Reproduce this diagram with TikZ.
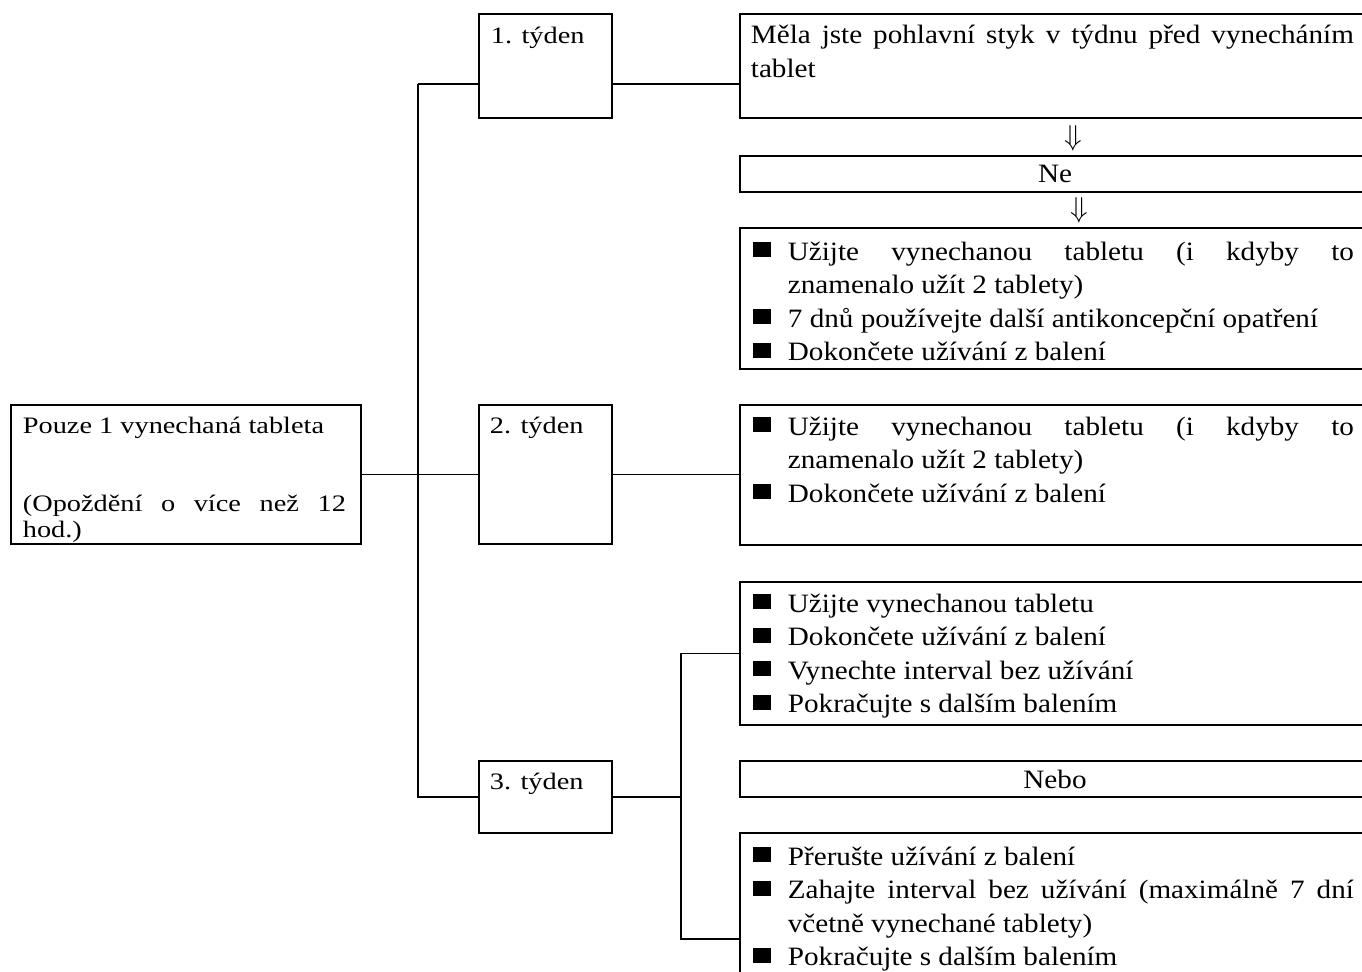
\documentclass[tikz,border=0pt]{standalone}
\usepackage{fontspec}
\setmainfont{Liberation Serif}
\newfontfamily\rfont{Liberation Serif}[FakeStretch=1.1]
\newfontfamily\wfont{Liberation Serif}[FakeStretch=1.2]
\setlength{\parindent}{0pt}
\newcommand{\rlead}{\rule{0pt}{16pt}}
\newcommand{\wlead}{\rule{0pt}{14pt}}
\newcommand{\blt}{\par\hangindent=18.5pt\hangafter=1\noindent\makebox[18.5pt][l]{\hspace{1pt}\rule[1.5pt]{9pt}{7.5pt}}}
\tikzset{
  frame/.style={draw, anchor=north west, inner sep=0pt, outer sep=0pt},
  rtext/.style={anchor=north west, inner sep=0pt, text width=301.5pt, align=justify,
    font=\rfont\fontsize{13.25}{16.75}\selectfont, yshift=16pt},
  wtext/.style={anchor=north west, inner sep=0pt, text width=161.5pt, align=justify,
    font=\wfont\fontsize{11.8}{13}\selectfont, yshift=14pt},
  wlabel/.style={anchor=base west, inner sep=0pt, font=\wfont\fontsize{11.8}{13}\selectfont},
  ctext/.style={font=\rfont\fontsize{13.25}{16.75}\selectfont},
  darrow/.style={inner sep=0pt, font=\fontsize{14}{16}\selectfont}
}

\begin{document}
\begin{tikzpicture}[x=0.5pt, y=-0.5pt, line width=0.9pt]
    \useasboundingbox (0,0) rectangle (1362,971);
    \clip (0,0) rectangle (1362,971);

    \node[frame, minimum width=175pt, minimum height=69.5pt] (main) at (11,405) {};
    \node[frame, minimum width=66.5pt, minimum height=52pt] (w1) at (479,14) {};
    \node[frame, minimum width=66.5pt, minimum height=69.5pt] (w2) at (479,405) {};
    \node[frame, minimum width=66.5pt, minimum height=36pt] (w3) at (479,761) {};

    \node[frame, minimum width=315pt, minimum height=52pt] (qa) at (740,14) {};
    \node[frame, ctext, minimum width=315pt, minimum height=18pt] (ne) at (740,156) {Ne};
    \node[frame, minimum width=315pt, minimum height=70.5pt] (qb) at (740,228) {};
    \node[frame, minimum width=315pt, minimum height=70pt] (qw) at (740,405) {};
    \node[frame, minimum width=315pt, minimum height=71.5pt] (qc) at (740,582) {};
    \node[frame, ctext, minimum width=315pt, minimum height=18pt] (nebo) at (740,761) {Nebo};
    \node[frame, minimum width=315pt, minimum height=106pt] (qd) at (740,833) {};

    \node[darrow] (d1) at (1073,138) {$\Downarrow$};
    \node[darrow] (d2) at (1079,210) {$\Downarrow$};

    \node[wtext] (tmain) at (22,433) {\noindent\wlead Pouze 1 vynechaná tableta\par\vspace{26pt}\noindent (Opoždění o více než 12\linebreak hod.)};
    \node[wlabel] (tw1) at (490,43) {1. týden};
    \node[wlabel] (tw2) at (489,433) {2. týden};
    \node[wlabel] (tw3) at (489,789) {3. týden};

    \node[rtext] (ta) at (750,43) {\noindent\rlead Měla jste pohlavní styk v týdnu před vynecháním\linebreak tablet};
    \node[rtext] (tb) at (750,258) {\blt\rlead Užijte vynechanou tabletu (i kdyby to\linebreak znamenalo užít 2 tablety)\blt 7 dnů používejte další antikoncepční opatření\blt Dokončete užívání z balení};
    \node[rtext] (tw) at (750,433) {\blt\rlead Užijte vynechanou tabletu (i kdyby to\linebreak znamenalo užít 2 tablety)\blt Dokončete užívání z balení};
    \node[rtext] (tc) at (750,610) {\blt\rlead Užijte vynechanou tabletu\blt Dokončete užívání z balení\blt Vynechte interval bez užívání\blt Pokračujte s dalším balením};
    \node[rtext] (td) at (750,863) {\blt\rlead Přerušte užívání z balení\blt Zahajte interval bez užívání (maximálně 7 dní\linebreak včetně vynechané tablety)\blt Pokračujte s dalším balením};

    \coordinate (T1) at (418,84);
    \coordinate (T3) at (418,797);
    \coordinate (K) at (681,797);
    \draw (T1) -- (T1 -| w1.west);
    \draw (w1.east |- T1) -- (T1 -| qa.west);
    \draw (T1) -- (T3) -- (T3 -| w3.west);
    \draw (main.east) -- (main.east -| w2.west);
    \draw (w2.east) -- (w2.east -| qw.west);
    \draw (w3.east) -- (K);
    \draw (qc.west) -| (K) |- (qd.west);
\end{tikzpicture}
\end{document}
